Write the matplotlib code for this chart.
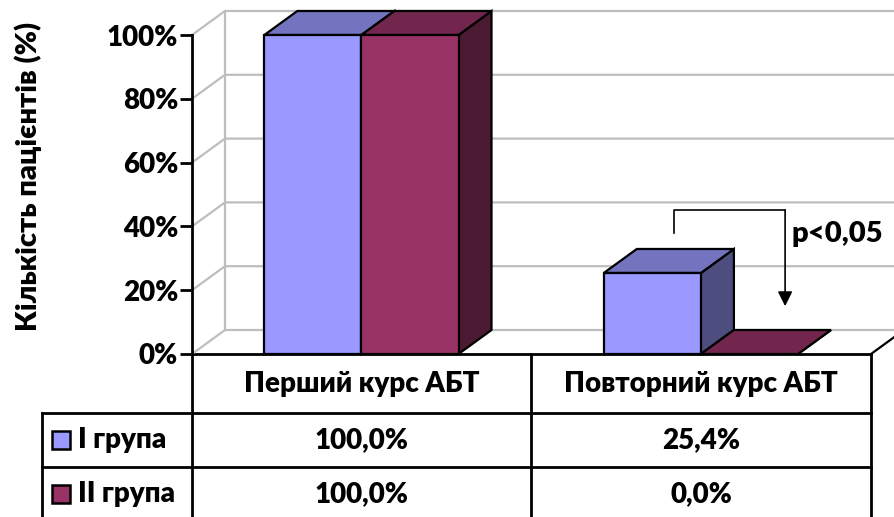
import matplotlib.pyplot as plt
import matplotlib.ticker as mticker

plt.rcParams['font.family'] = ['Lato', 'DejaVu Sans']
plt.rcParams['font.weight'] = 'heavy'

categories = ['Перший курс АБТ', 'Повторний курс АБТ']
groups = ['I група', 'II група']
group1 = [100.0, 25.4]
group2 = [100.0, 0.0]
values = [group1, group2]

front_cols = ['#9999FF', '#993366']
top_cols = ['#7373BF', '#73264D']
side_cols = ['#4D4D80', '#4D1A33']
grid_col = '#BEBEBE'

W, H = 894, 517
fig = plt.figure(figsize=(W / 100, H / 100), dpi=100)

# front plane of the 3d box: x in categories, y in percent
x0px, x1px, y0px, y1px = 192, 871, 354, 35
ax = fig.add_axes([x0px / W, 1 - y0px / H, (x1px - x0px) / W, (y0px - y1px) / H])
ax.set_xlim(0, 2)
ax.set_ylim(0, 100)
ax.patch.set_alpha(0)
for s in ['top', 'right', 'bottom']:
    ax.spines[s].set_visible(False)
ax.spines['left'].set_linewidth(2)
ax.set_xticks([])
ax.set_yticks(range(0, 101, 20))
ax.yaxis.set_major_formatter(mticker.FuncFormatter(lambda v, p: f'{v:.0f}%'))
ax.tick_params(axis='y', length=9, width=2, direction='out', labelsize=20, pad=1)
for lab in ax.get_yticklabels():
    lab.set_fontweight('heavy')
ax.set_ylabel('Кількість пацієнтів (%)', fontsize=21, fontweight='heavy')
ax.yaxis.set_label_coords(-0.221, 0.558)

# depth offset in data units
dx = 33 / ((x1px - x0px) / 2)
dy = 24 / ((y0px - y1px) / 100)

# walls and gridlines
for v in range(0, 101, 20):
    ax.plot([0, dx, 2 + dx], [v, v + dy, v + dy], color=grid_col, lw=1.6,
            clip_on=False, zorder=1)
ax.plot([dx, dx], [dy, 100 + dy], color=grid_col, lw=1.6, clip_on=False, zorder=1)
ax.plot([2, 2 + dx], [0, dy], color='black', lw=1.6, clip_on=False, zorder=1)

# bars
off, bw = 0.213, 0.286
for c in range(len(categories)):
    for s in range(len(groups)):
        v = values[s][c]
        xl = c + off + s * bw
        xr = xl + bw
        ax.fill([xr, xr + dx, xr + dx, xr], [0, dy, v + dy, v], color=side_cols[s],
                ec='black', lw=1.6, clip_on=False, zorder=3 + s)
        ax.fill([xl, xr, xr + dx, xl + dx], [v, v, v + dy, v + dy], color=top_cols[s],
                ec='black', lw=1.6, clip_on=False, zorder=3 + s)
        if v > 0:
            ax.fill([xl, xr, xr, xl], [0, 0, v, v], color=front_cols[s],
                    ec='black', lw=1.6, clip_on=False, zorder=3 + s)

# significance bracket
ax.plot([1.42, 1.42, 1.747], [37.9, 45.1, 45.1], color='black', lw=1.2, zorder=6)
ax.annotate('', xy=(1.747, 15), xytext=(1.747, 45.1),
            arrowprops=dict(arrowstyle='-|>', color='black', lw=1.2,
                            mutation_scale=22, shrinkA=0, shrinkB=0), zorder=6)
ax.text(1.765, 37.5, 'p<0,05', fontsize=21, fontweight='heavy', va='center', ha='left')

# data table below the plot
tab = fig.add_axes([0, 0, 1, 1], zorder=-1)
tab.set_xlim(0, W)
tab.set_ylim(H, 0)
tab.axis('off')
col_x = [192, 531, 871]
row_y = [354, 413, 467]
lk = dict(color='black', lw=2, solid_capstyle='projecting')
tab.plot([192, 871], [354, 354], **lk)
for y in row_y[1:]:
    tab.plot([42, 871], [y, y], **lk)
for x in col_x:
    tab.plot([x, x], [354, H + 5], **lk)
tab.plot([42, 42], [413, H + 5], **lk)

for c, name in enumerate(categories):
    cx = (col_x[c] + col_x[c + 1]) / 2
    tab.text(cx, 384, name, ha='center', va='center', fontsize=20, fontweight='heavy')
    for s in range(len(groups)):
        cy = (row_y[s + 1] + (row_y[s + 2] if s + 2 < len(row_y) else 521)) / 2
        tab.text(cx, cy, f'{values[s][c]:.1f}%'.replace('.', ','),
                 ha='center', va='center', fontsize=20, fontweight='heavy')

for s, name in enumerate(groups):
    cy = (row_y[s + 1] + (row_y[s + 2] if s + 2 < len(row_y) else 521)) / 2
    tab.add_patch(plt.Rectangle((52, cy - 9), 18, 18, fc=front_cols[s], ec='black', lw=1.8))
    tab.text(78, cy, name, ha='left', va='center', fontsize=20, fontweight='heavy')

fig.savefig('out.png', dpi=100)
